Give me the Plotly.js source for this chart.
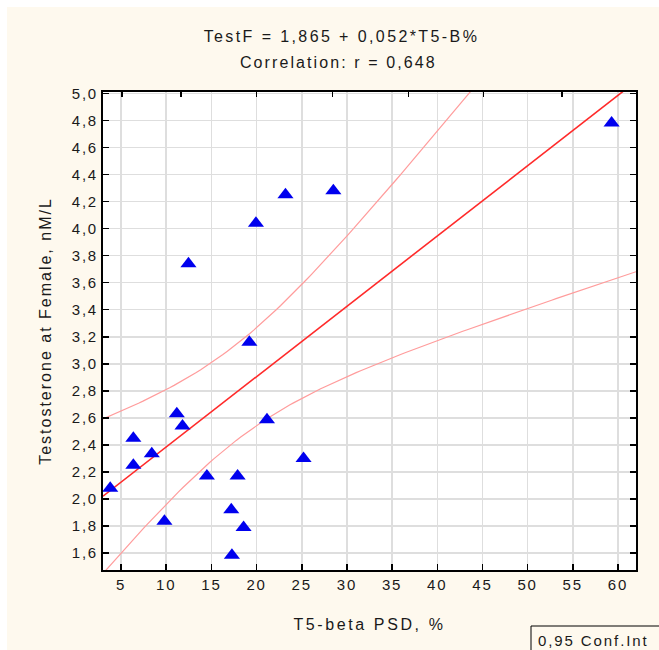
<!DOCTYPE html>
<html>
<head>
<meta charset="utf-8">
<script src="https://cdn.plot.ly/plotly-3.0.1.min.js"></script>
<style>
  html, body { margin: 0; padding: 0; background: #ffffff; }
  #chart { position: absolute; left: 7px; top: 7px; width: 652px; height: 643px; }
  #chart .xaxislayer-above text, #chart .yaxislayer-above text { letter-spacing: 1.8px; }
  #chart text.gtitle { letter-spacing: 2.4px; }
  #chart g.annotation[data-index="0"] text { letter-spacing: 2.1px; }
  #chart g.annotation[data-index="1"] text { letter-spacing: 1.9px; }
  #chart text.xtitle { letter-spacing: 2.6px; }
  #chart text.ytitle { letter-spacing: 2px; }
</style>
</head>
<body>
<div id="chart"></div>
<script>
// Data
const t5BetaPSD = [3.8, 6.36, 6.36, 8.4, 9.8, 11.17, 11.8, 12.46, 14.5, 17.9, 17.2, 18.56, 17.27, 19.2, 19.93, 21.15, 23.2, 25.2, 28.5, 59.3];
const testosterone = [2.08, 2.45, 2.25, 2.335, 1.836, 2.63, 2.54, 3.74, 2.17, 2.17, 1.92, 1.79, 1.585, 3.16, 4.04, 2.586, 4.25, 2.30, 4.28, 4.78];
const fitIntercept = 1.865;
const fitSlope = 0.052;
const tCrit = 2.101; // t(0.975, df = 18) for the 0.95 confidence band
const xTickVals = [5, 10, 15, 20, 25, 30, 35, 40, 45, 50, 55, 60];
const topTickVals = [5.1, 11.65, 20, 28.4, 36.8, 45.1, 53.8];
const xRange = [3, 62];
const yRange = [1.475, 5.01];

// Regression statistics from the data
const n = t5BetaPSD.length;
const xMean = t5BetaPSD.reduce((a, b) => a + b, 0) / n;
const sxx = t5BetaPSD.reduce((a, x) => a + (x - xMean) * (x - xMean), 0);
const sse = t5BetaPSD.reduce((a, x, i) => {
  const r = testosterone[i] - (fitIntercept + fitSlope * x);
  return a + r * r;
}, 0);
const sErr = Math.sqrt(sse / (n - 2));

const lineX = [];
for (let k = 0; k <= 120; k++) lineX.push(xRange[0] + (xRange[1] - xRange[0]) * k / 120);
const fitY = lineX.map(x => fitIntercept + fitSlope * x);
const half = lineX.map(x => tCrit * sErr * Math.sqrt(1 / n + (x - xMean) * (x - xMean) / sxx));
const upperY = fitY.map((y, i) => y + half[i]);
const lowerY = fitY.map((y, i) => y - half[i]);

const FONT = 'Arial, "Liberation Sans", sans-serif';
const INK = '#1a1a1a';

const traces = [
  { x: lineX, y: upperY, mode: 'lines', line: { color: '#ff9c9c', width: 1.2 }, hoverinfo: 'skip', showlegend: false },
  { x: lineX, y: lowerY, mode: 'lines', line: { color: '#ff9c9c', width: 1.2 }, hoverinfo: 'skip', showlegend: false },
  { x: lineX, y: fitY, mode: 'lines', line: { color: '#ff2a2a', width: 1.6 }, hoverinfo: 'skip', showlegend: false },
  { x: t5BetaPSD, y: testosterone, mode: 'markers', type: 'scatter',
    marker: { symbol: 'triangle-up', size: 14, color: '#0000ee', line: { width: 0 } },
    showlegend: false, cliponaxis: false },
  { x: topTickVals, y: topTickVals.map(() => yRange[1]), xaxis: 'x2', mode: 'markers',
    marker: { opacity: 0 }, hoverinfo: 'skip', showlegend: false }
];

const layout = {
  width: 652, height: 643,
  margin: { l: 96, r: 23, t: 85, b: 80 },
  paper_bgcolor: '#fef9ee',
  plot_bgcolor: '#ffffff',
  separators: ',.',
  font: { family: FONT, size: 14, color: INK },
  title: {
    text: 'TestF = 1,865 + 0,052*T5-B%',
    font: { family: FONT, size: 16, color: INK },
    x: 0.513, xanchor: 'center', xref: 'container',
    y: 0.9535, yanchor: 'middle', yref: 'container'
  },
  xaxis: {
    range: xRange, tickvals: xTickVals, ticktext: xTickVals.map(String),
    showgrid: true, gridcolor: '#dedede', gridwidth: 1.5,
    showline: true, linecolor: '#000000', linewidth: 2, mirror: true,
    ticks: 'inside', ticklen: 6, tickwidth: 1.5, tickcolor: '#000000',
    tickfont: { family: FONT, size: 15, color: INK },
    zeroline: false,
    title: { text: 'T5-beta PSD, %', font: { family: FONT, size: 16, color: INK }, standoff: 27 }
  },
  xaxis2: {
    overlaying: 'x', side: 'top', range: xRange, tickvals: topTickVals,
    showticklabels: false, showgrid: false, showline: false, zeroline: false,
    ticks: 'inside', ticklen: 5, tickwidth: 1.5, tickcolor: '#000000'
  },
  yaxis: {
    range: yRange, tick0: 1.6, dtick: 0.2, tickformat: '.1f',
    showgrid: true, gridcolor: '#dedede', gridwidth: 1.5,
    showline: true, linecolor: '#000000', linewidth: 2, mirror: 'ticks',
    ticks: 'inside', ticklen: 6, tickwidth: 1.5, tickcolor: '#000000',
    tickfont: { family: FONT, size: 15, color: INK },
    zeroline: false,
    title: { text: 'Testosterone at Female, nM/L', font: { family: FONT, size: 16, color: INK }, standoff: 22 }
  },
  shapes: [
    { type: 'rect', xref: 'paper', yref: 'paper',
      x0: (531 - 103) / 533, x1: (680 - 103) / 533,
      y0: (570 - 680) / 478, y1: (570 - 626) / 478,
      line: { color: '#000000', width: 1 }, fillcolor: '#fef9ee', layer: 'above' }
  ],
  annotations: [
    { xref: 'paper', yref: 'paper', x: (338 - 103) / 533, y: (570 - 63) / 478,
      xanchor: 'center', yanchor: 'middle', showarrow: false,
      text: 'Correlation: r = 0,648',
      font: { family: FONT, size: 16, color: INK } },
    { xref: 'paper', yref: 'paper', x: (536 - 103) / 533, y: (570 - 640) / 478,
      xanchor: 'left', yanchor: 'middle', showarrow: false,
      text: '0,95 Conf.Int', align: 'left',
      font: { family: FONT, size: 15, color: INK } }
  ],
  showlegend: false
};

Plotly.newPlot('chart', traces, layout, { displayModeBar: false, staticPlot: true });
</script>
</body>
</html>
